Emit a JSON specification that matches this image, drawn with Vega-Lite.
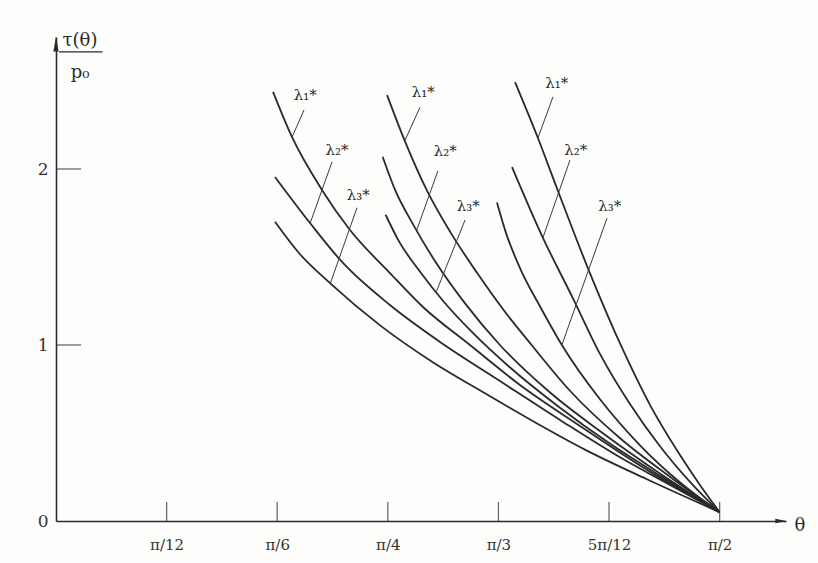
{
  "$schema": "https://vega.github.io/schema/vega-lite/v6.json",
  "width": 730,
  "height": 484,
  "autosize": {"type": "none"},
  "padding": {"left": 56, "top": 37, "right": 32, "bottom": 42},
  "background": "#fdfdfb",
  "config": {"view": {"stroke": null}},
  "datasets": {
    "curves": [
      {"curve": "G1L1", "theta": 29.43, "tau": 2.438},
      {"curve": "G1L1", "theta": 32.0, "tau": 2.182},
      {"curve": "G1L1", "theta": 36.07, "tau": 1.881},
      {"curve": "G1L1", "theta": 39.87, "tau": 1.653},
      {"curve": "G1L1", "theta": 45.29, "tau": 1.409},
      {"curve": "G1L1", "theta": 49.77, "tau": 1.216},
      {"curve": "G1L1", "theta": 56.14, "tau": 1.0},
      {"curve": "G1L1", "theta": 62.92, "tau": 0.773},
      {"curve": "G1L1", "theta": 71.06, "tau": 0.54},
      {"curve": "G1L1", "theta": 79.2, "tau": 0.315},
      {"curve": "G1L1", "theta": 90, "tau": 0.05},
      {"curve": "G1L2", "theta": 29.7, "tau": 1.955},
      {"curve": "G1L2", "theta": 34.45, "tau": 1.693},
      {"curve": "G1L2", "theta": 38.92, "tau": 1.466},
      {"curve": "G1L2", "theta": 45.29, "tau": 1.227},
      {"curve": "G1L2", "theta": 52.08, "tau": 1.017},
      {"curve": "G1L2", "theta": 60.21, "tau": 0.795},
      {"curve": "G1L2", "theta": 68.35, "tau": 0.574},
      {"curve": "G1L2", "theta": 76.48, "tau": 0.362},
      {"curve": "G1L2", "theta": 83.27, "tau": 0.205},
      {"curve": "G1L2", "theta": 90, "tau": 0.05},
      {"curve": "G1L3", "theta": 29.7, "tau": 1.70},
      {"curve": "G1L3", "theta": 33.0, "tau": 1.52},
      {"curve": "G1L3", "theta": 37.2, "tau": 1.35},
      {"curve": "G1L3", "theta": 44.0, "tau": 1.11},
      {"curve": "G1L3", "theta": 51.0, "tau": 0.905},
      {"curve": "G1L3", "theta": 58.0, "tau": 0.73},
      {"curve": "G1L3", "theta": 65.0, "tau": 0.56},
      {"curve": "G1L3", "theta": 72.0, "tau": 0.40},
      {"curve": "G1L3", "theta": 80.0, "tau": 0.24},
      {"curve": "G1L3", "theta": 90, "tau": 0.05},
      {"curve": "G2L1", "theta": 44.9, "tau": 2.42},
      {"curve": "G2L1", "theta": 47.3, "tau": 2.16},
      {"curve": "G2L1", "theta": 50.4, "tau": 1.87},
      {"curve": "G2L1", "theta": 53.5, "tau": 1.64},
      {"curve": "G2L1", "theta": 57.1, "tau": 1.41},
      {"curve": "G2L1", "theta": 60.5, "tau": 1.21},
      {"curve": "G2L1", "theta": 64.5, "tau": 1.0},
      {"curve": "G2L1", "theta": 69.7, "tau": 0.74},
      {"curve": "G2L1", "theta": 76.5, "tau": 0.47},
      {"curve": "G2L1", "theta": 83.3, "tau": 0.25},
      {"curve": "G2L1", "theta": 90, "tau": 0.05},
      {"curve": "G2L2", "theta": 44.3, "tau": 2.07},
      {"curve": "G2L2", "theta": 46.0, "tau": 1.88},
      {"curve": "G2L2", "theta": 48.5, "tau": 1.68},
      {"curve": "G2L2", "theta": 51.5, "tau": 1.47},
      {"curve": "G2L2", "theta": 55.5, "tau": 1.235},
      {"curve": "G2L2", "theta": 60.2, "tau": 1.0},
      {"curve": "G2L2", "theta": 67.0, "tau": 0.73},
      {"curve": "G2L2", "theta": 73.8, "tau": 0.51},
      {"curve": "G2L2", "theta": 81.9, "tau": 0.27},
      {"curve": "G2L2", "theta": 90, "tau": 0.05},
      {"curve": "G2L3", "theta": 44.7, "tau": 1.74},
      {"curve": "G2L3", "theta": 46.5, "tau": 1.59},
      {"curve": "G2L3", "theta": 49.3, "tau": 1.42},
      {"curve": "G2L3", "theta": 52.5, "tau": 1.25},
      {"curve": "G2L3", "theta": 56.5, "tau": 1.07},
      {"curve": "G2L3", "theta": 61.5, "tau": 0.875},
      {"curve": "G2L3", "theta": 68.3, "tau": 0.645},
      {"curve": "G2L3", "theta": 75.1, "tau": 0.44},
      {"curve": "G2L3", "theta": 82.0, "tau": 0.255},
      {"curve": "G2L3", "theta": 90, "tau": 0.05},
      {"curve": "G3L1", "theta": 62.25, "tau": 2.494},
      {"curve": "G3L1", "theta": 65.36, "tau": 2.176},
      {"curve": "G3L1", "theta": 67.94, "tau": 1.89},
      {"curve": "G3L1", "theta": 72.01, "tau": 1.45},
      {"curve": "G3L1", "theta": 76.48, "tau": 1.01},
      {"curve": "G3L1", "theta": 80.55, "tau": 0.66},
      {"curve": "G3L1", "theta": 84.62, "tau": 0.375},
      {"curve": "G3L1", "theta": 87.33, "tau": 0.205},
      {"curve": "G3L1", "theta": 90, "tau": 0.05},
      {"curve": "G3L2", "theta": 61.84, "tau": 2.011},
      {"curve": "G3L2", "theta": 65.91, "tau": 1.62},
      {"curve": "G3L2", "theta": 70.11, "tau": 1.265},
      {"curve": "G3L2", "theta": 73.77, "tau": 0.95},
      {"curve": "G3L2", "theta": 77.84, "tau": 0.665},
      {"curve": "G3L2", "theta": 81.91, "tau": 0.425},
      {"curve": "G3L2", "theta": 85.98, "tau": 0.222},
      {"curve": "G3L2", "theta": 90, "tau": 0.05},
      {"curve": "G3L3", "theta": 59.8, "tau": 1.81},
      {"curve": "G3L3", "theta": 61.0, "tau": 1.64},
      {"curve": "G3L3", "theta": 63.0, "tau": 1.43},
      {"curve": "G3L3", "theta": 65.5, "tau": 1.23},
      {"curve": "G3L3", "theta": 68.6, "tau": 1.0},
      {"curve": "G3L3", "theta": 73.8, "tau": 0.69},
      {"curve": "G3L3", "theta": 79.2, "tau": 0.43},
      {"curve": "G3L3", "theta": 84.6, "tau": 0.22},
      {"curve": "G3L3", "theta": 90, "tau": 0.05}
    ],
    "leaders": [
      {"theta": 33.63, "tau": 2.335, "theta2": 32.0, "tau2": 2.18},
      {"theta": 37.43, "tau": 2.04, "theta2": 34.45, "tau2": 1.69},
      {"theta": 40.82, "tau": 1.78, "theta2": 37.2, "tau2": 1.35},
      {"theta": 49.36, "tau": 2.35, "theta2": 47.3, "tau2": 2.16},
      {"theta": 51.8, "tau": 1.99, "theta2": 48.9, "tau2": 1.65},
      {"theta": 55.47, "tau": 1.71, "theta2": 51.6, "tau2": 1.305},
      {"theta": 67.4, "tau": 2.41, "theta2": 65.36, "tau2": 2.176},
      {"theta": 69.7, "tau": 2.05, "theta2": 66.04, "tau2": 1.61},
      {"theta": 74.72, "tau": 1.72, "theta2": 68.6, "tau2": 1.0}
    ],
    "lambdaLabels": [
      {"theta": 33.8, "tau": 2.42, "label": "λ₁*"},
      {"theta": 38.1, "tau": 2.11, "label": "λ₂*"},
      {"theta": 41.0, "tau": 1.85, "label": "λ₃*"},
      {"theta": 49.8, "tau": 2.44, "label": "λ₁*"},
      {"theta": 52.8, "tau": 2.1, "label": "λ₂*"},
      {"theta": 55.9, "tau": 1.79, "label": "λ₃*"},
      {"theta": 67.9, "tau": 2.49, "label": "λ₁*"},
      {"theta": 70.5, "tau": 2.11, "label": "λ₂*"},
      {"theta": 75.1, "tau": 1.79, "label": "λ₃*"}
    ],
    "xticks": [{"theta": 15, "tau": 0}, {"theta": 30, "tau": 0}, {"theta": 45, "tau": 0}, {"theta": 60, "tau": 0}, {"theta": 75, "tau": 0}, {"theta": 90, "tau": 0}],
    "yticks": [{"theta": 0, "tau": 1}, {"theta": 0, "tau": 2}],
    "origin": [{"theta": 0, "tau": 0}]
  },
  "encoding": {
    "x": {"field": "theta", "type": "quantitative", "scale": {"domain": [0, 99], "nice": false, "zero": false},
      "axis": {"values": [15, 30, 45, 60, 75, 90], "labelExpr": "datum.value==15?'π/12':datum.value==30?'π/6':datum.value==45?'π/4':datum.value==60?'π/3':datum.value==75?'5π/12':'π/2'", "ticks": false, "grid": false, "title": null, "domainColor": "#2b2b2b", "domainWidth": 1.6, "labelFont": "DejaVu Serif", "labelFontSize": 15, "labelColor": "#333333", "labelPadding": 16}},
    "y": {"field": "tau", "type": "quantitative", "scale": {"domain": [0, 2.75], "nice": false, "zero": false},
      "axis": {"values": [0, 1, 2], "ticks": false, "grid": false, "title": null, "domainColor": "#2b2b2b", "domainWidth": 1.6, "labelFont": "DejaVu Serif", "labelFontSize": 17, "labelColor": "#333333", "labelPadding": 8}}
  },
  "layer": [
    {
      "data": {"name": "curves"},
      "mark": {"type": "line", "interpolate": "monotone", "color": "#2a2a2a", "strokeWidth": 1.8},
      "encoding": {"detail": {"field": "curve"}}
    },
    {
      "data": {"name": "leaders"},
      "mark": {"type": "rule", "color": "#3a3a3a", "strokeWidth": 1},
      "encoding": {"x2": {"field": "theta2"}, "y2": {"field": "tau2"}}
    },
    {
      "data": {"name": "lambdaLabels"},
      "mark": {"type": "text", "font": "DejaVu Serif", "fontSize": 15, "color": "#2a2a2a"},
      "encoding": {"text": {"field": "label"}}
    },
    {
      "data": {"name": "xticks"},
      "mark": {"type": "tick", "orient": "vertical", "color": "#2b2b2b", "thickness": 1.3, "size": 19, "yOffset": -9.5},
      "encoding": {}
    },
    {
      "data": {"name": "yticks"},
      "mark": {"type": "tick", "orient": "horizontal", "color": "#2b2b2b", "thickness": 1.3, "size": 25, "xOffset": 12.5},
      "encoding": {}
    },
    {
      "data": {"name": "origin"},
      "mark": {"type": "point", "shape": "M0,-1L0.35,1L-0.35,1Z", "filled": true, "color": "#2b2b2b", "size": 225, "opacity": 1},
      "encoding": {"y": {"datum": 2.71, "type": "quantitative"}}
    },
    {
      "data": {"name": "origin"},
      "mark": {"type": "point", "shape": "M1,0L-1,-0.4L-1,0.4Z", "filled": true, "color": "#2b2b2b", "size": 121, "opacity": 1},
      "encoding": {"x": {"datum": 98.3, "type": "quantitative"}}
    },
    {
      "data": {"name": "origin"},
      "mark": {"type": "rule", "color": "#2b2b2b", "strokeWidth": 1.3},
      "encoding": {"x": {"datum": 0.4, "type": "quantitative"}, "x2": {"datum": 6.3}, "y": {"datum": 2.665, "type": "quantitative"}}
    },
    {
      "data": {"name": "origin"},
      "mark": {"type": "text", "text": "τ(θ)", "font": "DejaVu Serif", "fontSize": 18, "color": "#2a2a2a", "dx": 24, "dy": -480},
      "encoding": {}
    },
    {
      "data": {"name": "origin"},
      "mark": {"type": "text", "text": "p₀", "font": "DejaVu Serif", "fontSize": 18, "color": "#2a2a2a", "dx": 24, "dy": -448},
      "encoding": {}
    },
    {
      "data": {"name": "origin"},
      "mark": {"type": "text", "text": "θ", "font": "DejaVu Serif", "fontSize": 18, "color": "#2a2a2a", "dx": 744, "dy": 5},
      "encoding": {}
    }
  ]
}
